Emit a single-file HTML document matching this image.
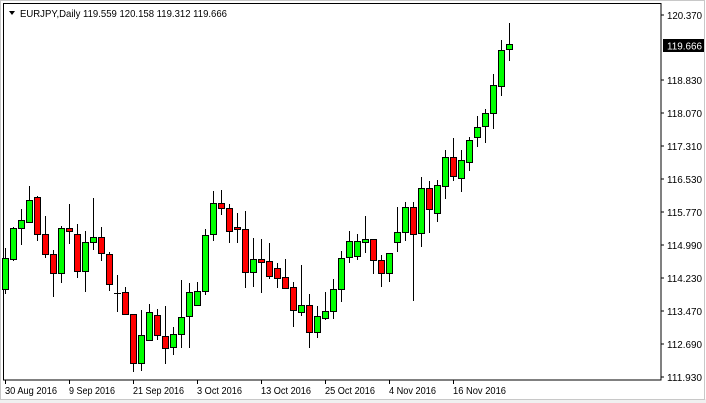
<!DOCTYPE html>
<html><head><meta charset="utf-8"><style>
html,body{margin:0;padding:0;background:#fff;}
svg{display:block;font-family:"Liberation Sans",Tahoma,sans-serif;}
</style></head><body>
<svg id="s" width="706" height="403" viewBox="0 0 706 403" xmlns="http://www.w3.org/2000/svg">
<rect x="0" y="0" width="706" height="403" fill="#fff"/>
<rect x="0" y="399" width="706" height="4" fill="#f0f0f0"/>
<rect x="0.5" y="0.5" width="704" height="399" fill="none" stroke="#c8c8c8"/>
<rect x="3.5" y="3.5" width="657.5" height="376.5" fill="none" stroke="#000"/>
<g id="c"></g>
<text x="20" y="17" font-size="10.5" fill="#000" textLength="207" lengthAdjust="spacingAndGlyphs">EURJPY,Daily  119.559 120.158 119.312 119.666</text>
<polygon points="9,11 15,11 12,15" fill="#000"/>
<g font-size="10" fill="#000">
<text x="667" y="19" textLength="35" lengthAdjust="spacingAndGlyphs">120.370</text>
<text x="667" y="84" textLength="35" lengthAdjust="spacingAndGlyphs">118.830</text>
<text x="667" y="117" textLength="35" lengthAdjust="spacingAndGlyphs">118.070</text>
<text x="667" y="150" textLength="35" lengthAdjust="spacingAndGlyphs">117.310</text>
<text x="667" y="183" textLength="35" lengthAdjust="spacingAndGlyphs">116.530</text>
<text x="667" y="216" textLength="35" lengthAdjust="spacingAndGlyphs">115.770</text>
<text x="667" y="249" textLength="35" lengthAdjust="spacingAndGlyphs">114.990</text>
<text x="667" y="282" textLength="35" lengthAdjust="spacingAndGlyphs">114.230</text>
<text x="667" y="315" textLength="35" lengthAdjust="spacingAndGlyphs">113.470</text>
<text x="667" y="348" textLength="35" lengthAdjust="spacingAndGlyphs">112.690</text>
<text x="667" y="381" textLength="35" lengthAdjust="spacingAndGlyphs">111.930</text>
</g>
<g stroke="#000">
<line x1="661" y1="15" x2="664" y2="15"/><line x1="661" y1="80" x2="664" y2="80"/><line x1="661" y1="113" x2="664" y2="113"/><line x1="661" y1="146" x2="664" y2="146"/><line x1="661" y1="179" x2="664" y2="179"/><line x1="661" y1="212" x2="664" y2="212"/><line x1="661" y1="245" x2="664" y2="245"/><line x1="661" y1="278" x2="664" y2="278"/><line x1="661" y1="311" x2="664" y2="311"/><line x1="661" y1="344" x2="664" y2="344"/><line x1="661" y1="377" x2="664" y2="377"/>
<line x1="5.5" y1="380" x2="5.5" y2="384"/><line x1="69.5" y1="380" x2="69.5" y2="384"/><line x1="133.5" y1="380" x2="133.5" y2="384"/><line x1="197.5" y1="380" x2="197.5" y2="384"/><line x1="261.5" y1="380" x2="261.5" y2="384"/><line x1="325.5" y1="380" x2="325.5" y2="384"/><line x1="389.5" y1="380" x2="389.5" y2="384"/><line x1="453.5" y1="380" x2="453.5" y2="384"/>
</g>
<rect x="663" y="39" width="41" height="13" fill="#000"/>
<text x="667" y="49.5" font-size="10" fill="#fff" textLength="35" lengthAdjust="spacingAndGlyphs">119.666</text>
<g font-size="10" fill="#000">
<text x="5" y="394" textLength="52" lengthAdjust="spacingAndGlyphs">30 Aug 2016</text>
<text x="69" y="394" textLength="46" lengthAdjust="spacingAndGlyphs">9 Sep 2016</text>
<text x="133" y="394" textLength="51" lengthAdjust="spacingAndGlyphs">21 Sep 2016</text>
<text x="197" y="394" textLength="45" lengthAdjust="spacingAndGlyphs">3 Oct 2016</text>
<text x="261" y="394" textLength="50" lengthAdjust="spacingAndGlyphs">13 Oct 2016</text>
<text x="325" y="394" textLength="50" lengthAdjust="spacingAndGlyphs">25 Oct 2016</text>
<text x="389" y="394" textLength="47" lengthAdjust="spacingAndGlyphs">4 Nov 2016</text>
<text x="453" y="394" textLength="53" lengthAdjust="spacingAndGlyphs">16 Nov 2016</text>
</g>
</svg>
<script>
var d=[
['g',258,289,248,294],['g',228,259,227,261],['g',220,228,209,245],['g',200,222,186,223],['r',197,234,196,241],
['r',234,254,216,258],['r',254,273,250,297],['g',228,273,226,283],['r',228,231,204,244],['r',234,271,224,278],
['g',242,271,231,292],['g',237,242,198,250],['r',237,253,227,261],['r',254,284,252,291],['d',293,293,275,312],
['r',292,314,287,315],['r',314,363,314,372],['g',335,363,310,371],['g',312,340,304,340],['r',315,335,309,340],
['r',336,348,306,364],['g',334,347,327,355],['g',317,334,280,348],['g',292,316,283,348],['g',291,305,282,305],
['g',235,291,229,295],['g',203,234,191,241],['r',203,208,190,215],['r',208,231,204,243],['r',227,229,213,243],
['r',229,272,211,288],['g',259,272,238,287],['r',259,262,239,293],['r',261,276,243,279],['r',268,278,263,288],
['r',277,288,259,288],['r',287,310,282,327],['g',305,312,265,316],['r',305,332,294,348],['g',316,332,306,338],
['g',311,318,292,320],['g',289,311,279,319],['g',258,289,251,302],['g',241,257,231,263],['g',241,256,234,260],
['g',239,242,216,253],['r',239,260,239,274],['r',260,273,255,287],['g',253,273,253,282],['g',232,242,207,252],
['g',207,232,202,241],['r',207,234,202,301],['g',188,233,177,247],['r',188,209,181,233],['g',185,213,180,222],
['g',157,186,150,199],['r',157,176,138,181],['g',160,178,150,192],['g',140,162,137,171],['g',127,137,116,147],
['g',113,126,109,143],['g',85,113,74,129],['g',50,86,40,96],['g',44,49,23,61]];
var h='';
d.forEach(function(c,i){var x=5+i*8;
h+='<line x1="'+(x+0.5)+'" y1="'+c[3]+'" x2="'+(x+0.5)+'" y2="'+c[4]+'" stroke="#000"/>';
if(c[0]=='d'){h+='<line x1="'+(x-3)+'" y1="'+(c[1]+0.5)+'" x2="'+(x+4)+'" y2="'+(c[1]+0.5)+'" stroke="#000"/>';}
else{var hh=Math.max(c[2]-c[1],2);h+='<rect x="'+(x-2.5)+'" y="'+(c[1]+0.5)+'" width="6" height="'+hh+'" fill="'+(c[0]=='g'?'#00ff00':'#ff0000')+'" stroke="#000"/>';}
});
document.getElementById('c').innerHTML=h;
</script>
</body></html>
